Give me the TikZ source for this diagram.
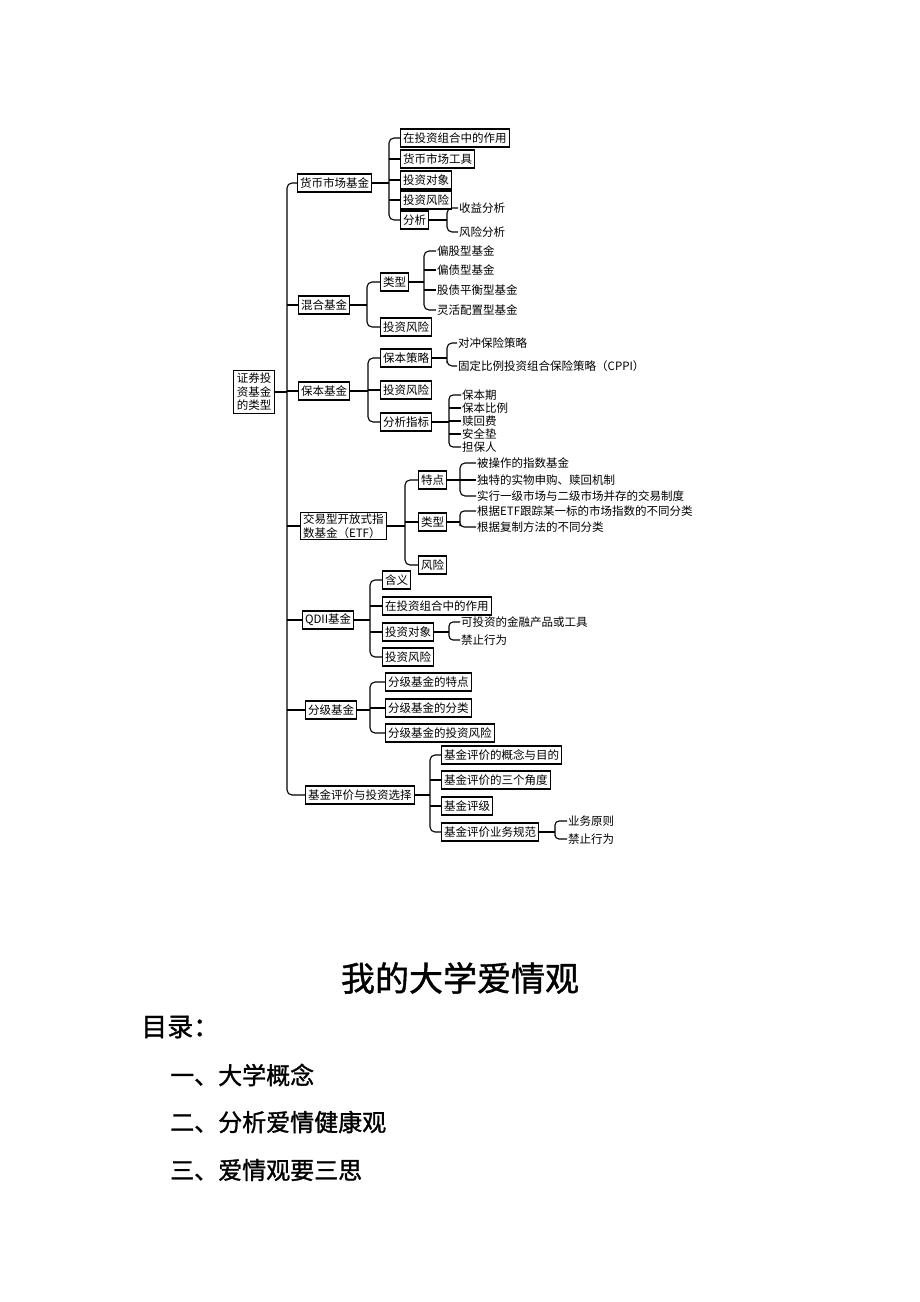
\documentclass[tikz,border=0pt]{standalone}
\usepackage{fontspec}
\setmainfont{Noto Sans CJK SC}
\newfontfamily\heavy{Noto Sans CJK SC}[FakeBold=1.2]
\tikzset{
  box/.style={draw,line width=1.1pt,anchor=west,inner xsep=2.5pt,inner ysep=1.5pt,minimum height=18pt},
  leaf/.style={anchor=west,inner sep=1pt},
  branch/.style={line width=1.1pt,rounded corners=5pt},
}
\begin{document}
\begin{tikzpicture}[x=1pt,y=-1pt,every node/.append style={font=\fontsize{11.5}{13.5}\selectfont}]
\useasboundingbox[fill=white] (0,0) rectangle (920,1302);

% root and trunk
\node (root) [box,anchor=center,align=center,inner sep=3pt] at (254,392) {证券投\\资基金\\的类型};
\node (hb) [box] at (297,183) {货币市场基金};
\node (hh) [box] at (298,305) {混合基金};
\node (bb) [box] at (298,391) {保本基金};
\node (etf) [box,align=left] at (300,526) {交易型开放式指\\数基金（ETF）};
\node (qd) [box] at (302,620) {QDII基金};
\node (fj) [box] at (305,710) {分级基金};
\node (pj) [box] at (305,795) {基金评价与投资选择};

\coordinate (trunk) at (287,392);
\draw [branch] (root.east) -- (trunk);
\draw [branch] (hb.west) -| (trunk) |- (pj.west);
\foreach \n in {hh,bb,etf,qd,fj} \draw [branch] (trunk |- \n.west) -- (\n.west);

%
% money market
%
\node (hb1) [box] at (400,138) {在投资组合中的作用};
\node (hb2) [box] at (400,159) {货币市场工具};
\node (hb3) [box] at (400,180) {投资对象};
\node (hb4) [box] at (400,200) {投资风险};
\node (hb5) [box] at (400,220) {分析};
\coordinate (hbj) at (389,183);
\draw [branch] (hb.east) -- (hbj);
\draw [branch] (hb1.west) -| (hbj) |- (hb5.west);
\foreach \n in {hb2,hb3,hb4} \draw [branch] (hbj |- \n.west) -- (\n.west);

\node (hb51) [leaf] at (458,208) {收益分析};
\node (hb52) [leaf] at (458,232) {风险分析};
\coordinate (hb5j) at (447,220);
\draw [branch] (hb5.east) -- (hb5j);
\draw [branch] (hb51.west) -| (hb5j) |- (hb52.west);

%
% mixed
%
\node (hh1) [box] at (380,282) {类型};
\node (hh2) [box] at (380,327) {投资风险};
\coordinate (hhj) at (367,305);
\draw [branch] (hh.east) -- (hhj);
\draw [branch] (hh1.west) -| (hhj) |- (hh2.west);

\node (hh11) [leaf] at (436,251) {偏股型基金};
\node (hh12) [leaf] at (436,270) {偏债型基金};
\node (hh13) [leaf] at (436,290) {股债平衡型基金};
\node (hh14) [leaf] at (436,310) {灵活配置型基金};
\coordinate (hh1j) at (424,282);
\draw [branch] (hh1.east) -- (hh1j);
\draw [branch] (hh11.west) -| (hh1j) |- (hh14.west);
\foreach \n in {hh12,hh13} \draw [branch] (hh1j |- \n.west) -- (\n.west);

%
% principal guaranteed
%
\node (bb1) [box] at (380,358) {保本策略};
\node (bb2) [box] at (380,390) {投资风险};
\node (bb3) [box] at (380,422) {分析指标};
\coordinate (bbj) at (368,391);
\draw [branch] (bb.east) -- (bbj);
\draw [branch] (bb1.west) -| (bbj) |- (bb3.west);
\draw [branch] (bbj |- bb2.west) -- (bb2.west);

\node (bb11) [leaf] at (457,343) {对冲保险策略};
\node (bb12) [leaf] at (457,366) {固定比例投资组合保险策略（CPPI）};
\coordinate (bb1j) at (447,358);
\draw [branch] (bb1.east) -- (bb1j);
\draw [branch] (bb11.west) -| (bb1j) |- (bb12.west);

\node (bb31) [leaf] at (461,395) {保本期};
\node (bb32) [leaf] at (461,408) {保本比例};
\node (bb33) [leaf] at (461,421) {赎回费};
\node (bb34) [leaf] at (461,434) {安全垫};
\node (bb35) [leaf] at (461,447) {担保人};
\coordinate (bb3j) at (449,422);
\draw [branch] (bb3.east) -- (bb3j);
\draw [branch,rounded corners=4pt] (bb31.west) -| (bb3j) |- (bb35.west);
\foreach \n in {bb32,bb33,bb34} \draw [branch] (bb3j |- \n.west) -- (\n.west);

%
% ETF
%
\node (etf1) [box] at (418,480) {特点};
\node (etf2) [box] at (418,522) {类型};
\node (etf3) [box] at (418,565) {风险};
\coordinate (etfj) at (405,526);
\draw [branch] (etf.east) -- (etfj);
\draw [branch] (etf1.west) -| (etfj) |- (etf3.west);
\draw [branch] (etfj |- etf2.west) -- (etf2.west);

\node (etf11) [leaf] at (476,463) {被操作的指数基金};
\node (etf12) [leaf] at (476,480) {独特的实物申购、赎回机制};
\node (etf13) [leaf] at (476,496) {实行一级市场与二级市场并存的交易制度};
\coordinate (etf1j) at (460,480);
\draw [branch] (etf1.east) -- (etf1j);
\draw [branch] (etf11.west) -| (etf1j) |- (etf13.west);
\draw [branch] (etf1j |- etf12.west) -- (etf12.west);

\node (etf21) [leaf] at (476,511) {根据ETF跟踪某一标的市场指数的不同分类};
\node (etf22) [leaf] at (476,527) {根据复制方法的不同分类};
\coordinate (etf2j) at (460,522);
\draw [branch] (etf2.east) -- (etf2j);
\draw [branch,rounded corners=4pt] (etf21.west) -| (etf2j) |- (etf22.west);

%
% QDII
%
\node (qd1) [box] at (382,580) {含义};
\node (qd2) [box] at (382,606) {在投资组合中的作用};
\node (qd3) [box] at (382,632) {投资对象};
\node (qd4) [box] at (382,657) {投资风险};
\coordinate (qdj) at (370,620);
\draw [branch] (qd.east) -- (qdj);
\draw [branch] (qd1.west) -| (qdj) |- (qd4.west);
\foreach \n in {qd2,qd3} \draw [branch] (qdj |- \n.west) -- (\n.west);

\node (qd31) [leaf] at (460,622) {可投资的金融产品或工具};
\node (qd32) [leaf] at (460,640) {禁止行为};
\coordinate (qd3j) at (449,632);
\draw [branch] (qd3.east) -- (qd3j);
\draw [branch,rounded corners=4pt] (qd31.west) -| (qd3j) |- (qd32.west);

%
% structured
%
\node (fj1) [box] at (385,682) {分级基金的特点};
\node (fj2) [box] at (385,708) {分级基金的分类};
\node (fj3) [box] at (385,733) {分级基金的投资风险};
\coordinate (fjj) at (370,710);
\draw [branch] (fj.east) -- (fjj);
\draw [branch] (fj1.west) -| (fjj) |- (fj3.west);
\draw [branch] (fjj |- fj2.west) -- (fj2.west);

%
% fund rating
%
\node (pj1) [box] at (441,755) {基金评价的概念与目的};
\node (pj2) [box] at (441,780) {基金评价的三个角度};
\node (pj3) [box] at (441,806) {基金评级};
\node (pj4) [box] at (441,832) {基金评价业务规范};
\coordinate (pjj) at (430,795);
\draw [branch] (pj.east) -- (pjj);
\draw [branch] (pj1.west) -| (pjj) |- (pj4.west);
\foreach \n in {pj2,pj3} \draw [branch] (pjj |- \n.west) -- (\n.west);

\node (pj41) [leaf] at (567,821) {业务原则};
\node (pj42) [leaf] at (567,839) {禁止行为};
\coordinate (pj4j) at (555,832);
\draw [branch] (pj4.east) -- (pj4j);
\draw [branch,rounded corners=4pt] (pj41.west) -| (pj4j) |- (pj42.west);

%
% essay title and contents
%
\node (title) at (460,978) {\heavy\fontsize{34}{40}\selectfont 我的大学爱情观};
\node (toc) [anchor=west,inner sep=0pt] at (141,1027) {\heavy\fontsize{26}{30}\selectfont 目录：};
\node (toc1) [anchor=west,inner sep=0pt] at (170,1075) {\heavy\fontsize{24}{28}\selectfont 一、大学概念};
\node (toc2) [anchor=west,inner sep=0pt] at (170,1122) {\heavy\fontsize{24}{28}\selectfont 二、分析爱情健康观};
\node (toc3) [anchor=west,inner sep=0pt] at (170,1170) {\heavy\fontsize{24}{28}\selectfont 三、爱情观要三思};

\end{tikzpicture}
\end{document}
